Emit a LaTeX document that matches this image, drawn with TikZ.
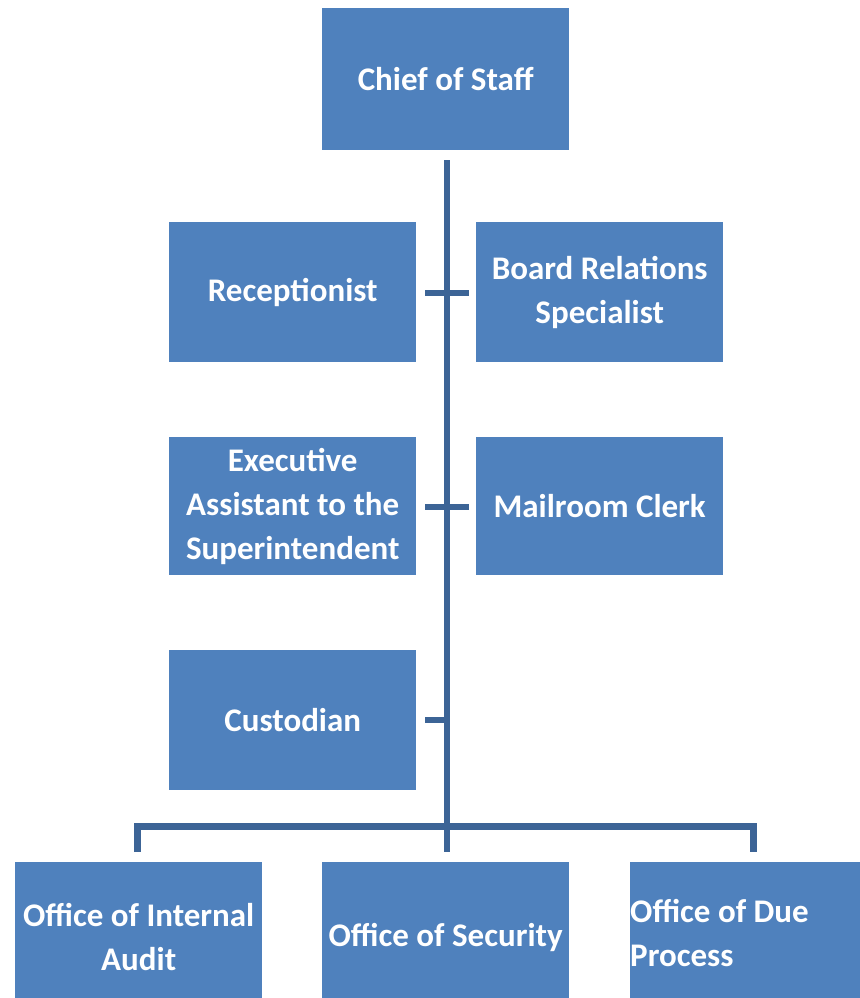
\documentclass[tikz,border=0pt]{standalone}
\usepackage{fontspec}
\setmainfont{Carlito}
\definecolor{boxblue}{HTML}{4F81BD}
\definecolor{lineblue}{HTML}{3C6496}
\begin{document}
\begin{tikzpicture}[x=1pt,y=-1pt,
  box/.style={fill=boxblue,draw=none,text=white,minimum width=247pt,minimum height=140pt,
    inner sep=0pt,align=center,font=\bfseries\fontsize{33}{44}\selectfont,anchor=north west},
  conn/.style={draw=lineblue,line width=6pt},
  bar/.style={draw=lineblue,line width=7pt}]
\useasboundingbox (0,0) rectangle (859,998);
% nodes
\node[box,minimum height=142pt] (chief) at (322,8) {Chief of Staff};
\node[box] (recep) at (169,222) {Receptionist};
\node[box] (board) at (476,222) {Board Relations\\Specialist};
\node[box,minimum height=138pt] (exec) at (169,437) {Executive\\Assistant to the\\Superintendent};
\node[box,minimum height=138pt] (mail) at (476,437) {Mailroom Clerk};
\node[box] (cust) at (169,650) {Custodian};
\node[box,minimum height=150pt] (audit) at (15,862) {Office of Internal\\Audit};
\node[box,minimum height=150pt] (sec) at (322,862) {Office of Security};
\node[box,minimum height=150pt] (due) at (630,862) {};
\node[anchor=west,text=white,font=\bfseries\fontsize{33}{44}\selectfont,align=left,inner sep=0pt] (duetext) at (630,933) {Office of Due\\Process};
% connector coordinates
\coordinate (top) at (447,160);
\coordinate (bot) at (447,852);
\coordinate (t1l) at (425,293);
\coordinate (t1r) at (469,293);
\coordinate (t2l) at (425,507);
\coordinate (t2r) at (469,507);
\coordinate (t3l) at (425,720);
\coordinate (t3r) at (447,720);
\coordinate (bl) at (137,826);
\coordinate (br) at (753,826);
\coordinate (dl) at (137,852);
\coordinate (dr) at (753,852);
% connectors
\draw[conn] (top) -- (bot);
\draw[conn] (t1l) -- (t1r);
\draw[conn] (t2l) -- (t2r);
\draw[conn] (t3l) -- (t3r);
\draw[bar] (dl) -- (bl) -- (br) -- (dr);
\end{tikzpicture}
\end{document}
